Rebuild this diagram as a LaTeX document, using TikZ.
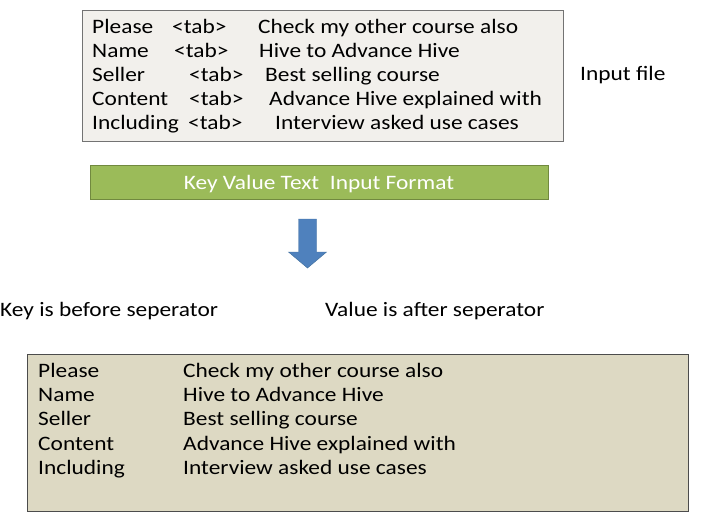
\documentclass[tikz,border=0pt]{standalone}
\usepackage{fontspec}
\setmainfont{Carlito}[FakeStretch=1.14]
\usetikzlibrary{positioning}
\definecolor{inputfill}{HTML}{F2F0EC}
\definecolor{outputfill}{HTML}{DDD9C3}
\definecolor{barfill}{HTML}{9BBB59}
\definecolor{barline}{HTML}{71893F}
\definecolor{arrowfill}{HTML}{4F81BD}
\definecolor{arrowline}{HTML}{41709F}
\tikzset{
  row/.style={anchor=base west, inner sep=0pt, font=\fontsize{17.5}{20}\selectfont},
}

\begin{document}
\begin{tikzpicture}[x=0.03cm, y=-0.03cm]
  \useasboundingbox (0,0) rectangle (704,527);
  % input file
  \node[draw=black!55, fill=inputfill, minimum width=14.43cm, minimum height=3.93cm] (in) at (322.5,75.5) {};
  \node[row] (k1) at (92,33)  {Please};
  \node[row] (t1) at (172,33) {<tab>};
  \node[row] (v1) at (258,33) {Check my other course also};
  \node[row] (k2) at (92,57)  {Name};
  \node[row] (t2) at (174,57) {<tab>};
  \node[row] (v2) at (259,57) {Hive to Advance Hive};
  \node[row] (k3) at (92,81)  {Seller};
  \node[row] (t3) at (189,81) {<tab>};
  \node[row] (v3) at (265,81) {Best selling course};
  \node[row] (k4) at (92,105) {Content};
  \node[row] (t4) at (189,105) {<tab>};
  \node[row] (v4) at (269,105) {Advance Hive explained with};
  \node[row] (k5) at (92,129) {Including};
  \node[row] (t5) at (188,129) {<tab>};
  \node[row] (v5) at (275,129) {Interview asked use cases};
  \node[row] (infile) at (580,80) {Input file};
  % format bar
  \node[draw=barline, fill=barfill, minimum width=13.74cm, minimum height=1.02cm] (bar) at (319,182) {};
  \node[row, anchor=base, text=white] (fmt) at (319,189) {Key Value Text\ \ Input Format};
  % block arrow
  \draw[arrowline, fill=arrowfill] (298.5,219) -- (316.5,219) -- (316.5,252) -- (326.5,252)
    -- (307.5,268) -- (288.5,252) -- (298.5,252) -- cycle;
  % separator notes
  \node[row] (keynote) at (0,316) {Key is before seperator};
  \node[row] (valnote) at (325,316) {Value is after seperator};
  % parsed output
  \node[draw=black!70, fill=outputfill, minimum width=19.83cm, minimum height=4.71cm] (out) at (357.5,432.5) {};
  \node[row] (ok1) at (38,377)  {Please};
  \node[row] (ov1) at (183,377) {Check my other course also};
  \node[row] (ok2) at (38,401)  {Name};
  \node[row] (ov2) at (183,401) {Hive to Advance Hive};
  \node[row] (ok3) at (38,425)  {Seller};
  \node[row] (ov3) at (183,425) {Best selling course};
  \node[row] (ok4) at (38,450)  {Content};
  \node[row] (ov4) at (183,450) {Advance Hive explained with};
  \node[row] (ok5) at (38,474)  {Including};
  \node[row] (ov5) at (183,474) {Interview asked use cases};
\end{tikzpicture}
\end{document}
